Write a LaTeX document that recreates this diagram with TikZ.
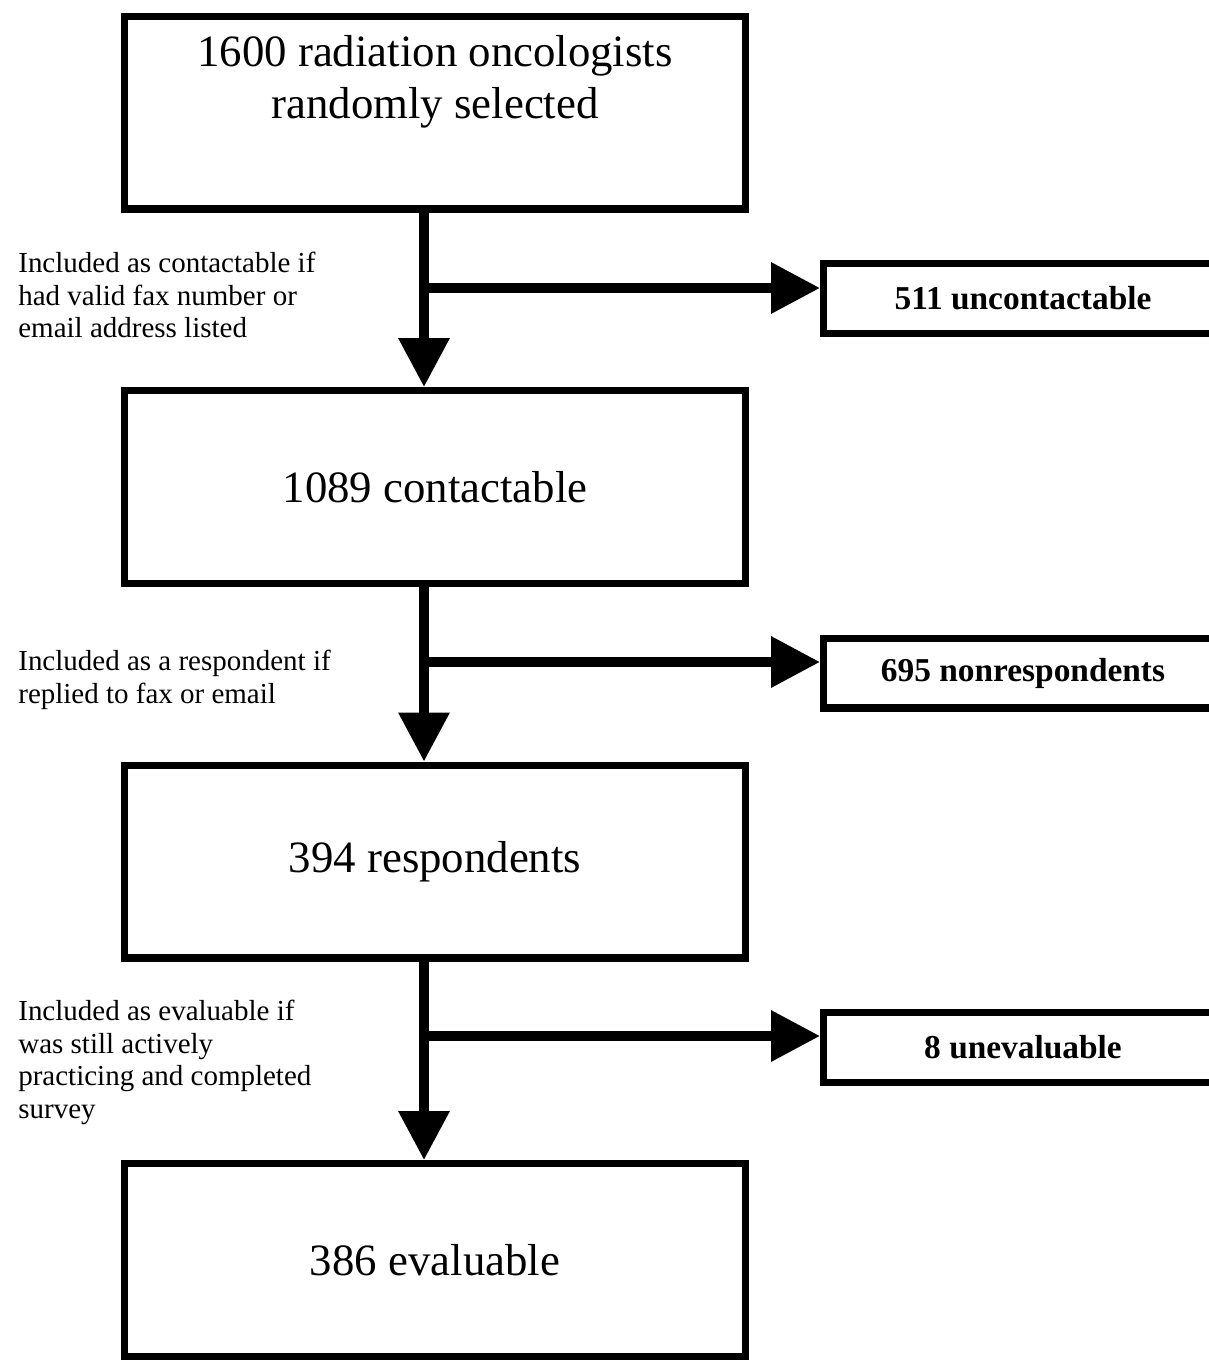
\documentclass[tikz,border=0pt]{standalone}
\usepackage{fontspec}
\setmainfont{Liberation Serif}
\usetikzlibrary{arrows.meta}
\tikzset{
  font={\fontsize{16.5pt}{18.5pt}\selectfont}}

\begin{document}
\begin{tikzpicture}[x=0.02cm, y=-0.02cm,
  stage/.style={draw, line width=4pt, minimum width=12.42cm, minimum height=3.86cm,
    align=center, font={\fontsize{25.5pt}{29.5pt}\selectfont}},
  outbox/.style={draw, line width=4pt, minimum width=7.98cm, minimum height=1.4cm,
    font={\fontsize{19pt}{22pt}\selectfont\bfseries}},
  note/.style={anchor=north west, align=left, inner sep=0pt},
  flow/.style={line width=5.6pt, -{Triangle[width=0.98cm, length=0.98cm]}}]
  \useasboundingbox (0,0) rectangle (1209,1360);
  \clip (0,0) rectangle (1209,1360);

  \node (sel) [stage, label={[anchor=north, align=center, inner sep=0pt, label distance=0pt,
    yshift=-0.45cm, font={\fontsize{25.5pt}{29.5pt}\selectfont}]north:{1600 radiation oncologists\\randomly selected}}]
    at (435,112.5) {};
  \node (con) [stage] at (435,487) {1089 contactable};
  \node (res) [stage] at (435,861.5) {394 respondents};
  \node (eva) [stage] at (435,1260) {386 evaluable};

  \node (unc) [outbox] at (1023,298.5) {511 uncontactable};
  \node (nonr) [outbox] at (1023,673) {695 nonrespondents};
  \node (unev) [outbox] at (1023,1047.5) {8 unevaluable};

  \coordinate (j1) at (424,288);
  \coordinate (j2) at (424,662);
  \coordinate (j3) at (424,1036);

  \node (n1) [note] at (18,252) {Included as contactable if\\had valid fax number or\\email address listed};
  \node (n2) [note] at (18,650) {Included as a respondent if\\replied to fax or email};
  \node (n3) [note] at (18,1000) {Included as evaluable if\\was still actively\\practicing and completed\\survey};

  \draw[flow] (sel.south -| j1) -- (con.north -| j1);
  \draw[flow] (con.south -| j2) -- (res.north -| j2);
  \draw[flow] (res.south -| j3) -- (eva.north -| j3);
  \draw[flow] (j1) -- (j1 -| unc.west);
  \draw[flow] (j2) -- (j2 -| nonr.west);
  \draw[flow] (j3) -- (j3 -| unev.west);
\end{tikzpicture}
\end{document}
